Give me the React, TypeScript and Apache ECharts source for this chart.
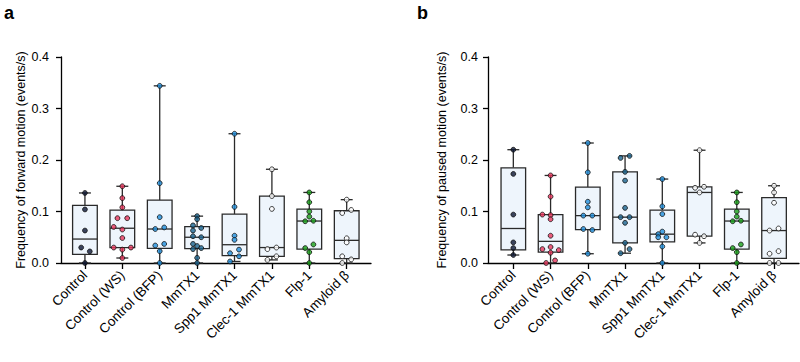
import React, { useEffect, useRef } from "react";
import * as echarts from "echarts";

const categories = ["Control", "Control (WS)", "Control (BFP)", "MmTX1", "Spp1 MmTX1", "Clec-1 MmTX1", "Flp-1", "Amyloid β"];
const groupColors = ["#0c1633", "#e8365d", "#1f8fdc", "#1b6590", "#1f8fdc", "#ffffff", "#18a018", "#ffffff"];
const yTicks = [0, 0.1, 0.2, 0.3, 0.4];

// Panel a: frequency of forward motion (events/s)
const forwardValues: number[][] = [
  [0.136, 0.104, 0.063, 0.030, 0.0225, 0],
  [0.149, 0.126, 0.108, 0.087, 0.087, 0.070, 0.065, 0.0485, 0.030, 0.030, 0.026, 0.0097],
  [0.344, 0.155, 0.089, 0.069, 0.066, 0.037, 0.034, 0.023, 0],
  [0.091, 0.085, 0.073, 0.068, 0.063, 0.052, 0.050, 0.037, 0.033, 0.029, 0.027, 0.010, 0],
  [0.251, 0.109, 0.053, 0.045, 0.026, 0.019, 0.013, 0.003],
  [0.182, 0.130, 0.105, 0.030, 0.027, 0.013, 0.006],
  [0.137, 0.118, 0.100, 0.090, 0.082, 0.081, 0.036, 0.029, 0.021, 0],
  [0.123, 0.103, 0.097, 0.048, 0.040, 0.013, 0.007, 0],
];
const forwardJitter: number[][] = [
  [0, 0, 0, -0.1, 0.13, 0],
  [0, 0, 0, -0.13, 0.13, -0.23, 0, 0, -0.23, 0.23, 0, 0],
  [0, 0, 0, 0.12, -0.12, 0.12, -0.12, 0, 0],
  [0, 0, -0.11, 0.11, -0.11, -0.11, 0.11, -0.11, 0, 0.11, -0.11, 0, 0],
  [0, 0, 0, 0, 0.12, -0.12, 0.12, -0.12],
  [0, 0, 0, 0.12, -0.12, 0.12, -0.12],
  [0, 0, 0, 0, 0.11, -0.11, 0.11, -0.11, 0, 0],
  [0, 0.12, -0.12, 0, 0, -0.12, 0.12, -0.12],
];

// Panel b: frequency of paused motion (events/s)
const pausedValues: number[][] = [
  [0.220, 0.173, 0.094, 0.040, 0.029, 0.0155],
  [0.170, 0.129, 0.094, 0.093, 0.085, 0.053, 0.031, 0.027, 0.025, 0.020, 0.005, 0],
  [0.233, 0.176, 0.119, 0.108, 0.092, 0.092, 0.066, 0.064, 0.018],
  [0.208, 0.204, 0.177, 0.160, 0.107, 0.089, 0.089, 0.078, 0.039, 0.027, 0.019],
  [0.163, 0.110, 0.095, 0.061, 0.056, 0.050, 0.050, 0.032, 0],
  [0.219, 0.148, 0.146, 0.137, 0.055, 0.052, 0.039],
  [0.137, 0.118, 0.100, 0.090, 0.082, 0.081, 0.036, 0.029, 0.021, 0],
  [0.150, 0.137, 0.117, 0.067, 0.063, 0.023, 0.018, 0, 0],
];
const pausedJitter: number[][] = [
  [0, 0, 0, 0, 0, 0],
  [0, 0, -0.22, 0, 0, 0, 0, -0.22, 0.22, 0, 0.12, -0.12],
  [0, 0, 0, 0, -0.12, 0.12, -0.12, 0.12, 0],
  [0.12, -0.12, 0, 0, 0, -0.12, 0.12, 0, 0, 0.12, -0.12],
  [0, 0, 0, 0, -0.11, -0.11, 0.11, 0, 0],
  [0, 0.12, -0.12, 0, -0.12, 0.12, 0],
  [0, 0, 0, 0, 0.11, -0.11, 0.11, -0.11, 0, 0],
  [0, 0, 0, 0.12, -0.12, 0.12, -0.12, -0.12, 0.12],
];

function percentile(sorted: number[], p: number): number {
  const n = sorted.length;
  const pos = p * (n + 1);
  if (pos <= 1) return sorted[0];
  if (pos >= n) return sorted[n - 1];
  const lo = Math.floor(pos);
  const f = pos - lo;
  return sorted[lo - 1] + f * (sorted[lo] - sorted[lo - 1]);
}

function boxStats(groups: number[][]) {
  return groups.map((g, i) => {
    const s = [...g].sort((a, b) => a - b);
    return [i, s[0], percentile(s, 0.25), percentile(s, 0.5), percentile(s, 0.75), s[s.length - 1]];
  });
}

function pointData(groups: number[][], jitter: number[][]) {
  const out: any[] = [];
  groups.forEach((g, i) => {
    g.forEach((v, j) => {
      out.push({ value: [i + jitter[i][j], v], itemStyle: { color: groupColors[i] } });
    });
  });
  return out;
}

const FONT = "Liberation Sans, Arial, Helvetica, sans-serif";
const LINE = "#2a2a2a";

function renderBox(params: any, api: any) {
  const x = api.value(0);
  const mn = api.value(1), q1 = api.value(2), md = api.value(3), q3 = api.value(4), mx = api.value(5);
  const unit = api.size([1, 0])[0];
  const bw = (unit * 0.66) / 2;
  const cw = (unit * 0.32) / 2;
  const pMin = api.coord([x, mn]);
  const pQ1 = api.coord([x, q1]);
  const pMd = api.coord([x, md]);
  const pQ3 = api.coord([x, q3]);
  const pMax = api.coord([x, mx]);
  const cx = pMin[0];
  const ls = { stroke: LINE, lineWidth: 1.3 };
  return {
    type: "group",
    children: [
      { type: "line", shape: { x1: cx, y1: pQ3[1], x2: cx, y2: pMax[1] }, style: ls },
      { type: "line", shape: { x1: cx, y1: pQ1[1], x2: cx, y2: pMin[1] }, style: ls },
      { type: "line", shape: { x1: cx - cw, y1: pMax[1], x2: cx + cw, y2: pMax[1] }, style: ls },
      { type: "line", shape: { x1: cx - cw, y1: pMin[1], x2: cx + cw, y2: pMin[1] }, style: ls },
      {
        type: "rect",
        shape: { x: cx - bw, y: pQ3[1], width: 2 * bw, height: pQ1[1] - pQ3[1] },
        style: { fill: "#eef5fc", stroke: LINE, lineWidth: 1.3 },
      },
      { type: "line", shape: { x1: cx - bw, y1: pMd[1], x2: cx + bw, y2: pMd[1] }, style: ls },
    ],
  };
}

function xAxisCfg(gridIndex: number, min: number, max: number) {
  const idx = categories.map((_, i) => i);
  return {
    type: "value",
    gridIndex,
    min,
    max,
    axisLine: { show: true, onZero: false, lineStyle: { color: "#000", width: 1.3 } },
    axisTick: { show: true, length: 6, customValues: idx, lineStyle: { color: "#000", width: 1.3 } },
    axisLabel: {
      customValues: idx,
      formatter: (v: number) => categories[Math.round(v)],
      rotate: 45,
      fontSize: 13.5,
      color: "#000",
      fontFamily: FONT,
      margin: 10,
    },
    splitLine: { show: false },
  };
}

function yAxisCfg(gridIndex: number, name: string, nameGap: number, labelMargin: number) {
  return {
    type: "value",
    gridIndex,
    min: yTicks[0],
    max: yTicks[yTicks.length - 1],
    interval: 0.1,
    name,
    nameLocation: "middle",
    nameRotate: 90,
    nameGap,
    nameTextStyle: { fontSize: 12.5, color: "#000", fontFamily: FONT },
    axisLine: { show: true, onZero: false, lineStyle: { color: "#000", width: 1.3 } },
    axisTick: { show: true, length: 5, lineStyle: { color: "#000", width: 1.3 } },
    axisLabel: { fontSize: 12.5, color: "#000", fontFamily: FONT, margin: labelMargin, formatter: (v: number) => v.toFixed(1) },
    splitLine: { show: false },
  };
}

export default function App() {
  const ref = useRef<HTMLDivElement>(null);
  useEffect(() => {
    if (!ref.current) return;
    const chart = echarts.init(ref.current, null, { renderer: "svg" });
    const scatterStyle = { borderColor: "#111", borderWidth: 1 };
    chart.setOption({
      animation: false,
      backgroundColor: "#fff",
      textStyle: { fontFamily: FONT },
      grid: [
        { left: 61, top: 57, width: 310, height: 206 },
        { left: 488, top: 57, width: 311, height: 206 },
      ],
      xAxis: [xAxisCfg(0, -0.64, 7.65), xAxisCfg(1, -0.68, 7.67)],
      yAxis: [
        yAxisCfg(0, "Frequency of forward motion (events/s)", 33, 12),
        yAxisCfg(1, "Frequency of paused motion (events/s)", 40, 10),
      ],
      graphic: [
        { type: "text", left: 4, top: 4, style: { text: "a", fontSize: 18, fontWeight: "bold", fill: "#000", fontFamily: FONT } },
        { type: "text", left: 417, top: 4, style: { text: "b", fontSize: 18, fontWeight: "bold", fill: "#000", fontFamily: FONT } },
      ],
      series: [
        { type: "custom", xAxisIndex: 0, yAxisIndex: 0, renderItem: renderBox, data: boxStats(forwardValues), z: 2, clip: false },
        { type: "custom", xAxisIndex: 1, yAxisIndex: 1, renderItem: renderBox, data: boxStats(pausedValues), z: 2, clip: false },
        { type: "scatter", xAxisIndex: 0, yAxisIndex: 0, symbolSize: 4.8, itemStyle: scatterStyle, data: pointData(forwardValues, forwardJitter), z: 3 },
        { type: "scatter", xAxisIndex: 1, yAxisIndex: 1, symbolSize: 4.8, itemStyle: scatterStyle, data: pointData(pausedValues, pausedJitter), z: 3 },
      ],
    });
    return () => chart.dispose();
  }, []);
  return <div ref={ref} style={{ position: "fixed", left: 0, top: 0, width: 800, height: 362 }} />;
}
